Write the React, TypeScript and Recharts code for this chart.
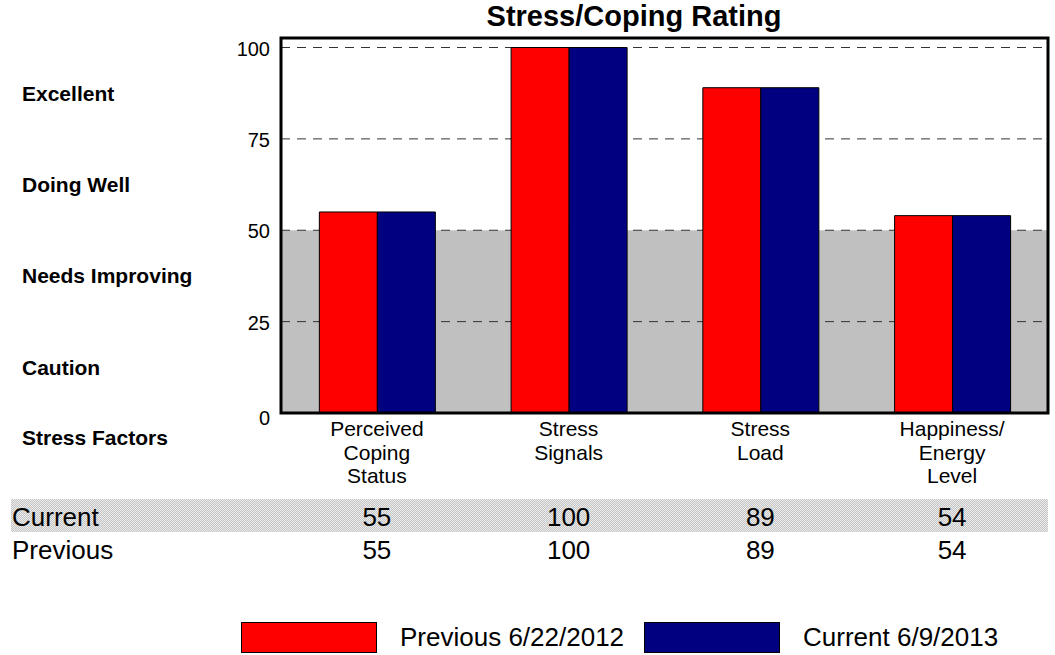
import React from 'react';
import { BarChart, Bar, XAxis, YAxis, CartesianGrid, ReferenceArea, Legend } from 'recharts';

const factors = ['Perceived\nCoping\nStatus', 'Stress\nSignals', 'Stress\nLoad', 'Happiness/\nEnergy\nLevel'];
const previous = [55, 100, 89, 54];
const current = [55, 100, 89, 54];
const valueTicks = [0, 25, 50, 75, 100];
// rating bands, bottom to top
const ratingBands = [[0, 25], [25, 50], [50, 75], [75, 100]];
const ratingLabels = ['Caution', 'Needs Improving', 'Doing Well', 'Excellent'];
const seriesOrder = ['previous', 'current'];
const previousName = 'Previous 6/22/2012';
const currentName = 'Current 6/9/2013';

const data = factors.map((factor, i) => ({ factor, previous: previous[i], current: current[i] }));

const FONT = '"Liberation Sans", Arial, sans-serif';
const Y_MAX = 102.6;

function FactorTick(props: any) {
    const { x, y, payload, index } = props;
    const lines = String(payload.value).split('\n');
    return (
        <g fontFamily={FONT} fill="#000">
            {lines.map((line, i) => (
                <text key={i} x={x} y={y + 23 + i * 23.7} textAnchor="middle" fontSize={21}>{line}</text>
            ))}
            <text x={x} y={y + 113} textAnchor="middle" fontSize={26}>{current[index]}</text>
            <text x={x} y={y + 146} textAnchor="middle" fontSize={26}>{previous[index]}</text>
        </g>
    );
}

function ValueTick(props: any) {
    const { x, y, payload } = props;
    return (
        <text x={x} y={y} dy={payload.value === 0 ? 12 : 8} textAnchor="end" fontSize={20} fontFamily={FONT} fill="#000">
            {payload.value}
        </text>
    );
}

// band caption drawn in the left gutter, centred on its band
function bandLabel(text: string) {
    return (props: any) => {
        const vb = props.viewBox || {};
        return (
            <text x={22} y={vb.y + vb.height / 2} dy={7.5} textAnchor="start" fontSize={21} fontWeight="bold" fontFamily={FONT} fill="#000">
                {text}
            </text>
        );
    };
}

function LegendContent(props: any) {
    const items = [...(props.payload || [])].sort(
        (a: any, b: any) => seriesOrder.indexOf(a.dataKey) - seriesOrder.indexOf(b.dataKey)
    );
    return (
        <div style={{ display: 'flex', alignItems: 'center', fontFamily: FONT, fontSize: 26 }}>
            {items.map((entry: any, i: number) => (
                <div key={i} style={{ display: 'flex', alignItems: 'center' }}>
                    <div style={{ width: 134, height: 29, background: entry.color, border: '1px solid #000' }} />
                    <span style={{ marginLeft: 23, marginRight: 20, lineHeight: '31px' }}>{entry.value}</span>
                </div>
            ))}
        </div>
    );
}

export default function App() {
    return (
        <div style={{ position: 'absolute', left: 0, top: 0, width: 1055, height: 655, background: '#fff', fontFamily: FONT }}>
            {/* shaded table row */}
            <div style={{
                position: 'absolute', left: 11, top: 499, width: 1037, height: 33,
                background: 'repeating-conic-gradient(#c4c4c4 0 25%, #ececec 0 50%) 0 0 / 2px 2px',
            }} />
            <div style={{ position: 'absolute', left: 434, top: 1.5, width: 400, textAlign: 'center', fontSize: 29, fontWeight: 'bold', lineHeight: 1 }}>
                Stress/Coping Rating
            </div>
            <div style={{ position: 'absolute', left: 22, top: 427, fontSize: 21, fontWeight: 'bold', lineHeight: 1 }}>Stress Factors</div>
            <div style={{ position: 'absolute', left: 12, top: 504, fontSize: 26, lineHeight: 1 }}>Current</div>
            <div style={{ position: 'absolute', left: 12, top: 537, fontSize: 26, lineHeight: 1 }}>Previous</div>
            <div style={{ position: 'absolute', left: 0, top: 0 }}>
                <BarChart
                    width={1055}
                    height={655}
                    data={data}
                    margin={{ top: 38, right: 7, bottom: 212, left: 0 }}
                    barCategoryGap="20%"
                    barGap={0}
                >
                    <XAxis
                        dataKey="factor"
                        height={30}
                        axisLine={false}
                        tickLine={false}
                        tickSize={0}
                        tickMargin={0}
                        interval={0}
                        tick={<FactorTick />}
                    />
                    <YAxis
                        type="number"
                        domain={[0, Y_MAX]}
                        ticks={valueTicks}
                        width={281}
                        axisLine={false}
                        tickLine={false}
                        tickSize={0}
                        tickMargin={11}
                        tick={<ValueTick />}
                    />
                    <ReferenceArea y1={0} y2={50} fill="#c0c0c0" fillOpacity={1} stroke="none" zIndex={-200} />
                    {ratingBands.map(([lo, hi], i) => (
                        <ReferenceArea key={i} y1={lo} y2={hi} fill="none" stroke="none" label={bandLabel(ratingLabels[i])} />
                    ))}
                    <CartesianGrid vertical={false} stroke="#333" strokeDasharray="9 7" zIndex={-100} />
                    <Bar dataKey="previous" name={previousName} fill="#ff0000" stroke="#000" strokeWidth={1} isAnimationActive={false} />
                    <Bar dataKey="current" name={currentName} fill="#000080" stroke="#000" strokeWidth={1} isAnimationActive={false} />
                    <ReferenceArea y1={0} y2={Y_MAX} fill="none" stroke="#000" strokeWidth={3} ifOverflow="visible" zIndex={1500} />
                    <Legend
                        layout="horizontal"
                        verticalAlign="middle"
                        align="center"
                        content={<LegendContent />}
                        wrapperStyle={{ position: 'absolute', left: 241, top: 622, width: 800 }}
                    />
                </BarChart>
            </div>
        </div>
    );
}
